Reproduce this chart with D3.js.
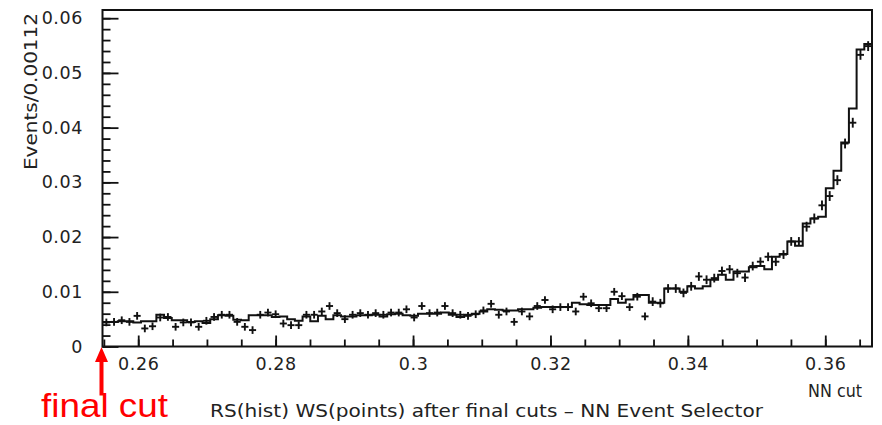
<!DOCTYPE html>
<html>
<head>
<meta charset="utf-8">
<script src="https://cdn.jsdelivr.net/npm/d3@7"></script>
<style>
  html, body { margin: 0; padding: 0; background: #fff; }
  svg { display: block; }
</style>
</head>
<body>
<svg id="chart" width="882" height="425"></svg>
<script>
// ---------------- data ----------------
const binLow = 0.2548;          // lower edge of first bin
const binWidth = 0.00112;       // bin width (Events/0.00112)

// RS : histogram contents per bin
const rsHist = [
  0.0045, 0.0045, 0.0046, 0.0046, 0.0044, 0.0046, 0.0046, 0.0058, 0.0052, 0.0048,
  0.0048, 0.0045, 0.0046, 0.0043, 0.0050, 0.0057, 0.0056, 0.0049, 0.0048, 0.0057,
  0.0057, 0.0057, 0.0054, 0.0055, 0.0050, 0.0047, 0.0055, 0.0046, 0.0056, 0.0050,
  0.0057, 0.0055, 0.0055, 0.0057, 0.0057, 0.0058, 0.0055, 0.0059, 0.0060, 0.0057,
  0.0056, 0.0060, 0.0060, 0.0060, 0.0062, 0.0058, 0.0054, 0.0058, 0.0060, 0.0064,
  0.0068, 0.0067, 0.0066, 0.0066, 0.0068, 0.0068, 0.0071, 0.0072, 0.0072, 0.0072,
  0.0072, 0.0080, 0.0077, 0.0076, 0.0076, 0.0076, 0.0087, 0.0080, 0.0086, 0.0094,
  0.0094, 0.0080, 0.0080, 0.0106, 0.0106, 0.0100, 0.0110, 0.0106, 0.0110, 0.0122,
  0.0131, 0.0122, 0.0137, 0.0137, 0.0145, 0.0147, 0.0141, 0.0164, 0.0169, 0.0192,
  0.0184, 0.0225, 0.0234, 0.0237, 0.0289, 0.0321, 0.0373, 0.0435, 0.0543, 0.0553
];

// WS : points per bin
const wsPoints = [
  0.0044, 0.0045, 0.0048, 0.0045, 0.0056, 0.0033, 0.0037, 0.0053, 0.0054, 0.0036,
  0.0044, 0.0044, 0.0036, 0.0047, 0.0054, 0.0058, 0.0058, 0.0045, 0.0036, 0.0030,
  0.0058, 0.0062, 0.0059, 0.0042, 0.0039, 0.0039, 0.0058, 0.0058, 0.0064, 0.0074,
  0.0061, 0.0050, 0.0058, 0.0061, 0.0058, 0.0061, 0.0058, 0.0062, 0.0062, 0.0068,
  0.0053, 0.0074, 0.0061, 0.0062, 0.0074, 0.0061, 0.0058, 0.0056, 0.0059, 0.0066,
  0.0078, 0.0058, 0.0064, 0.0045, 0.0064, 0.0055, 0.0074, 0.0085, 0.0068, 0.0072,
  0.0072, 0.0064, 0.0091, 0.0079, 0.0070, 0.0070, 0.0100, 0.0092, 0.0072, 0.0091,
  0.0055, 0.0082, 0.0079, 0.0106, 0.0106, 0.0098, 0.0110, 0.0128, 0.0122, 0.0125,
  0.0138, 0.0141, 0.0134, 0.0126, 0.0147, 0.0155, 0.0164, 0.0155, 0.0168, 0.0192,
  0.0192, 0.0219, 0.0234, 0.0258, 0.0275, 0.0304, 0.0371, 0.0409, 0.0533, 0.0549
];

// WS : error bar half-heights per bin
const wsErrors = [
  0.0007, 0.0007, 0.0007, 0.0007, 0.0007, 0.0007, 0.0007, 0.0007, 0.0007, 0.0007,
  0.0007, 0.0007, 0.0007, 0.0007, 0.0007, 0.0007, 0.0007, 0.0007, 0.0007, 0.0007,
  0.0007, 0.0007, 0.0007, 0.0007, 0.0007, 0.0007, 0.0007, 0.0007, 0.0007, 0.0007,
  0.0007, 0.0007, 0.0007, 0.0007, 0.0007, 0.0007, 0.0007, 0.0007, 0.0007, 0.0007,
  0.0007, 0.0007, 0.0007, 0.0007, 0.0007, 0.0007, 0.0007, 0.0007, 0.0007, 0.0007,
  0.0007, 0.0007, 0.0007, 0.0007, 0.0007, 0.0007, 0.0007, 0.0007, 0.0007, 0.0007,
  0.0007, 0.0007, 0.0007, 0.0007, 0.0007, 0.0007, 0.0007, 0.0007, 0.0007, 0.0007,
  0.0007, 0.0008, 0.0008, 0.0008, 0.0008, 0.0008, 0.0008, 0.0008, 0.0008, 0.0008,
  0.0008, 0.0008, 0.0008, 0.0008, 0.0008, 0.0008, 0.0008, 0.0008, 0.0008, 0.0008,
  0.0008, 0.0009, 0.0009, 0.0009, 0.0009, 0.0009, 0.0009, 0.0009, 0.0009, 0.0009
];

const xTickValues = [0.26, 0.28, 0.30, 0.32, 0.34, 0.36];
const xTickLabels = ["0.26", "0.28", "0.3", "0.32", "0.34", "0.36"];
const yTickValues = [0, 0.01, 0.02, 0.03, 0.04, 0.05, 0.06];
const yTickLabels = ["0", "0.01", "0.02", "0.03", "0.04", "0.05", "0.06"];

const xDomain = [0.2548, 0.3668];
const yDomain = [0, 0.0615];

const titleText = "RS(hist) WS(points) after final cuts \u2013 NN Event Selector";
const xTitleText = "NN cut";
const yTitleText = "Events/0.00112";
const cutLabel = "final cut";
const cutValue = 0.2548;

// ---------------- drawing ----------------
const svg = d3.select("#chart");
const plotL = 102.5, plotR = 872, plotT = 10, plotB = 346.5;
const ink = "#111";
const font = "'DejaVu Sans', sans-serif";

const x = d3.scaleLinear().domain(xDomain).range([plotL, plotR]);
const y = d3.scaleLinear().domain(yDomain).range([plotB, plotT]);

const bins = rsHist.map((v, i) => ({
  x0: binLow + i * binWidth,
  x1: binLow + (i + 1) * binWidth,
  h: v, p: wsPoints[i], e: wsErrors[i]
}));

// minor ticks
const xMinor = d3.range(0.255, 0.3675, 0.005).filter(v => v >= xDomain[0] && v <= xDomain[1]);
const yMinor = d3.range(0, 0.0615, 0.002);

const gxMinor = svg.append("g").attr("transform", `translate(0,${plotB})`)
  .call(d3.axisBottom(x).tickValues(xMinor).tickSize(-7).tickFormat(""));
const gyMinor = svg.append("g").attr("transform", `translate(${plotL},0)`)
  .call(d3.axisLeft(y).tickValues(yMinor).tickSize(-8).tickFormat(""));

const gx = svg.append("g").attr("transform", `translate(0,${plotB})`)
  .call(d3.axisBottom(x).tickValues(xTickValues).tickSize(-11).tickPadding(11.5)
    .tickFormat((d, i) => xTickLabels[i]));
const gy = svg.append("g").attr("transform", `translate(${plotL},0)`)
  .call(d3.axisLeft(y).tickValues(yTickValues).tickSize(-16).tickPadding(19.5)
    .tickFormat((d, i) => yTickLabels[i]));

[gxMinor, gyMinor, gx, gy].forEach(g => {
  g.select(".domain").remove();
  g.selectAll(".tick line").attr("stroke", ink).attr("stroke-width", 1.8);
  g.selectAll("text").attr("font-family", font).attr("font-size", 17.5)
    .attr("fill", "#222").attr("letter-spacing", 0.6);
});

// histogram (step line)
const stepPts = [];
bins.forEach(b => { stepPts.push([x(b.x0), y(b.h)]); stepPts.push([x(b.x1), y(b.h)]); });
svg.append("path")
  .attr("d", d3.line()(stepPts))
  .attr("fill", "none").attr("stroke", ink).attr("stroke-width", 2);

// points with errors
const pts = svg.append("g").attr("stroke", ink).attr("stroke-width", 1.9);
bins.forEach(b => {
  const cx = x((b.x0 + b.x1) / 2);
  pts.append("line")
    .attr("x1", x(b.x0) + 0.3).attr("x2", x(b.x1) - 0.3)
    .attr("y1", y(b.p)).attr("y2", y(b.p));
  pts.append("line")
    .attr("x1", cx).attr("x2", cx)
    .attr("y1", y(b.p - b.e)).attr("y2", y(b.p + b.e));
});

// frame
svg.append("rect")
  .attr("x", plotL).attr("y", plotT)
  .attr("width", plotR - plotL).attr("height", plotB - plotT)
  .attr("fill", "none").attr("stroke", ink).attr("stroke-width", 2);

// titles
svg.append("text")
  .attr("x", 210).attr("y", 417)
  .attr("font-family", font).attr("font-size", 17.5).attr("fill", "#222")
  .attr("textLength", 553).attr("lengthAdjust", "spacingAndGlyphs")
  .text(titleText);

svg.append("text")
  .attr("x", 862).attr("y", 397).attr("text-anchor", "end")
  .attr("font-family", font).attr("font-size", 17.5).attr("fill", "#222")
  .attr("textLength", 54).attr("lengthAdjust", "spacingAndGlyphs")
  .text(xTitleText);

svg.append("text")
  .attr("transform", "translate(37,170) rotate(-90)")
  .attr("font-family", font).attr("font-size", 17.5).attr("fill", "#222")
  .attr("textLength", 157).attr("lengthAdjust", "spacingAndGlyphs")
  .text(yTitleText);

// red "final cut" annotation
const ax = x(cutValue) - 1;
svg.append("path")
  .attr("d", d3.line()([
    [ax, plotB + 0.5], [ax + 6.5, plotB + 15.5], [ax + 2, plotB + 15.5],
    [ax + 2, plotB + 49], [ax - 2, plotB + 49], [ax - 2, plotB + 15.5],
    [ax - 6.5, plotB + 15.5]
  ]) + "Z")
  .attr("fill", "#ff0000");

svg.append("text")
  .attr("x", 41).attr("y", 417)
  .attr("font-family", "'Liberation Sans', Arial, sans-serif")
  .attr("font-size", 33).attr("fill", "#ff0000")
  .attr("textLength", 127).attr("lengthAdjust", "spacingAndGlyphs")
  .text(cutLabel);
</script>
</body>
</html>
